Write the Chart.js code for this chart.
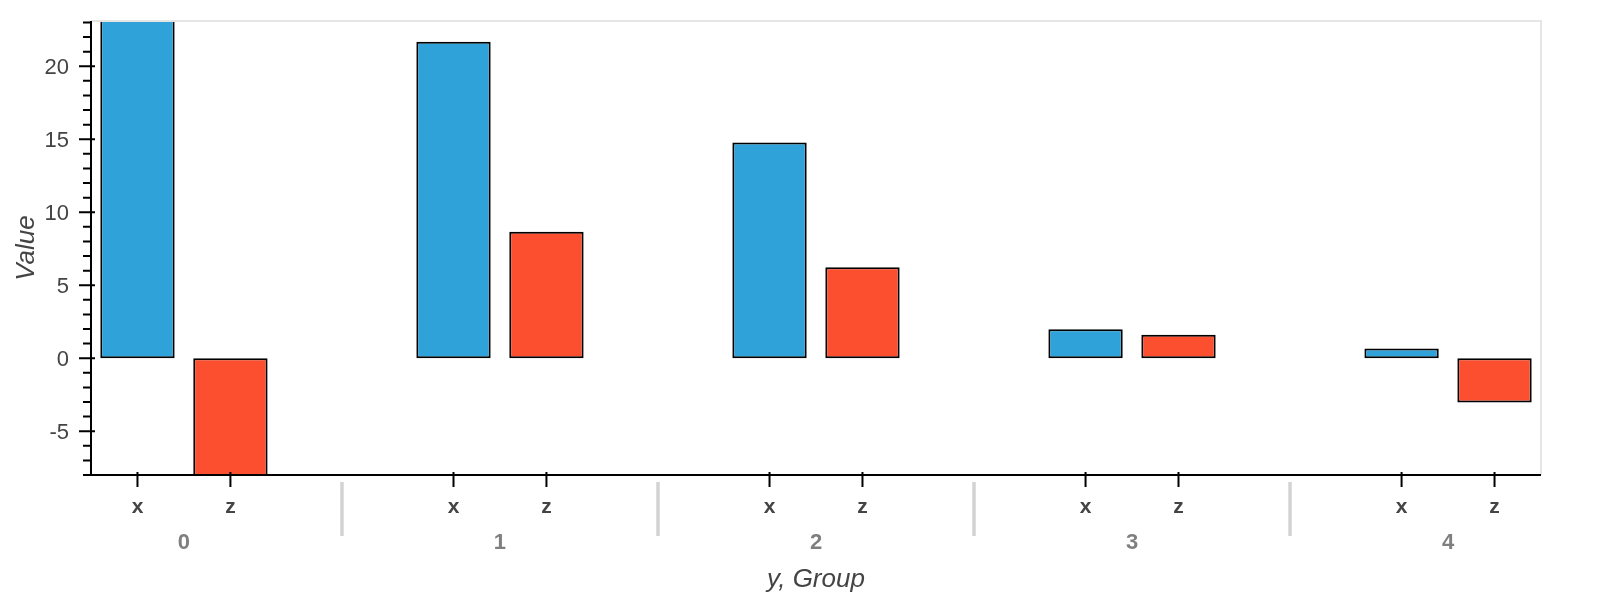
<!DOCTYPE html>
<html><head><meta charset="utf-8">
<script src="https://cdn.jsdelivr.net/npm/chart.js@4/dist/chart.umd.min.js"></script>
<style>html,body{margin:0;padding:0;background:#fff}</style>
</head><body>
<canvas id="c" width="1600" height="600"></canvas>
<script>
// ---- data ----
const groups = ['0', '1', '2', '3', '4'];
const subFactors = ['x', 'z'];
const xValues = [25.0, 21.68, 14.77, 1.99, 0.66];
const zValues = [-9.0, 8.67, 6.23, 1.60, -3.04];
const yTicks = [-5, 0, 5, 10, 15, 20];
const yRange = [-8.0, 23.1];
const seriesColors = ['#30a2da', '#fc4f30'];

// ---- layout helpers (factor range like Bokeh) ----
const groupPadding = 1.4;
const groupStride = subFactors.length + groupPadding;
function factorPos(gi, si) { return gi * groupStride + si; }
const factorPositions = [];
groups.forEach((g, gi) => subFactors.forEach((s, si) => factorPositions.push(factorPos(gi, si))));
const xMin = -0.5;
const xMax = factorPos(groups.length - 1, subFactors.length - 1) + 0.5;

const FONT = '"Liberation Sans", Arial, Helvetica, sans-serif';
const seriesValues = [xValues, zValues];

const datasets = subFactors.map((s, si) => ({
  label: s,
  data: groups.map((g, gi) => ({ x: factorPos(gi, si), y: seriesValues[si][gi] })),
  backgroundColor: seriesColors[si],
  borderColor: '#000',
  borderWidth: 2,
  borderSkipped: false,
  grouped: false,
  barPercentage: 0.8,
  categoryPercentage: 1.0,
  clip: 0
}));

const bokehAxes = {
  id: 'bokehAxes',
  afterDatasetsDraw(chart) {
    const ctx = chart.ctx;
    const a = chart.chartArea;
    const xs = chart.scales.x, ys = chart.scales.y;
    ctx.save();
    // outline
    ctx.strokeStyle = '#e5e5e5';
    ctx.lineWidth = 2;
    ctx.beginPath();
    ctx.moveTo(a.left, a.top); ctx.lineTo(a.right, a.top); ctx.lineTo(a.right, a.bottom);
    ctx.stroke();
    // axis lines
    ctx.strokeStyle = '#000';
    ctx.lineWidth = 2;
    ctx.beginPath();
    ctx.moveTo(a.left, a.top); ctx.lineTo(a.left, a.bottom);
    ctx.moveTo(a.left - 8, a.bottom); ctx.lineTo(a.right, a.bottom);
    ctx.stroke();
    // y major ticks
    ctx.beginPath();
    yTicks.forEach(v => {
      const y = ys.getPixelForValue(v);
      ctx.moveTo(a.left - 12, y); ctx.lineTo(a.left + 4, y);
    });
    // y minor ticks
    for (let v = Math.ceil(yRange[0]); v <= Math.floor(yRange[1]); v++) {
      if (yTicks.includes(v)) continue;
      const y = ys.getPixelForValue(v);
      ctx.moveTo(a.left - 8, y); ctx.lineTo(a.left, y);
    }
    // x ticks
    factorPositions.forEach(p => {
      const x = xs.getPixelForValue(p);
      ctx.moveTo(x, a.bottom - 3); ctx.lineTo(x, a.bottom + 12);
    });
    ctx.stroke();
    // group separators
    ctx.strokeStyle = '#d3d3d3';
    ctx.lineWidth = 3.5;
    ctx.beginPath();
    for (let gi = 0; gi < groups.length - 1; gi++) {
      const p = (factorPos(gi, subFactors.length - 1) + factorPos(gi + 1, 0)) / 2;
      const x = xs.getPixelForValue(p);
      ctx.moveTo(x, a.bottom + 7); ctx.lineTo(x, a.bottom + 61);
    }
    ctx.stroke();
    // group labels
    ctx.fillStyle = '#7f7f7f';
    ctx.font = 'bold 22px ' + FONT;
    ctx.textAlign = 'center';
    ctx.textBaseline = 'alphabetic';
    groups.forEach((g, gi) => {
      const p = (factorPos(gi, 0) + factorPos(gi, subFactors.length - 1)) / 2;
      ctx.fillText(g, xs.getPixelForValue(p), a.bottom + 74);
    });
    ctx.restore();
  }
};

new Chart(document.getElementById('c'), {
  type: 'bar',
  data: { datasets },
  plugins: [bokehAxes],
  options: {
    responsive: false,
    devicePixelRatio: 1,
    animation: false,
    layout: { padding: { top: 21, right: 59, left: 0, bottom: 0 } },
    plugins: { legend: { display: false }, tooltip: { enabled: false } },
    scales: {
      x: {
        type: 'linear',
        offset: false,
        min: xMin,
        max: xMax,
        afterBuildTicks: s => { s.ticks = factorPositions.map(v => ({ value: v })); },
        afterFit: s => { s.height = 125; s.paddingLeft = 0; s.paddingRight = 0; s.paddingTop = 0; s.paddingBottom = 0; },
        grid: { display: false, drawTicks: false },
        border: { display: false },
        ticks: {
          autoSkip: false, maxRotation: 0, minRotation: 0, padding: 20,
          color: '#444', font: { family: FONT, size: 21, weight: 'bold' },
          callback: (v, i) => subFactors[i % subFactors.length]
        },
        title: {
          display: true, text: 'y, Group', color: '#444',
          font: { family: FONT, size: 26, style: 'italic' },
          padding: { top: 0, bottom: 5 }
        }
      },
      y: {
        type: 'linear',
        min: yRange[0],
        max: yRange[1],
        afterBuildTicks: s => { s.ticks = yTicks.map(v => ({ value: v })); },
        afterFit: s => { s.width = 91; s.paddingTop = 0; s.paddingBottom = 0; s.paddingLeft = 0; s.paddingRight = 0; },
        grid: { display: false, drawTicks: false },
        border: { display: false },
        ticks: {
          padding: 22, labelOffset: 2,
          color: '#444', font: { family: FONT, size: 22 }
        },
        title: {
          display: true, text: 'Value', color: '#444',
          font: { family: FONT, size: 26, style: 'italic' },
          padding: { top: 11.5, bottom: 0 }
        }
      }
    }
  }
});
</script>
</body></html>
